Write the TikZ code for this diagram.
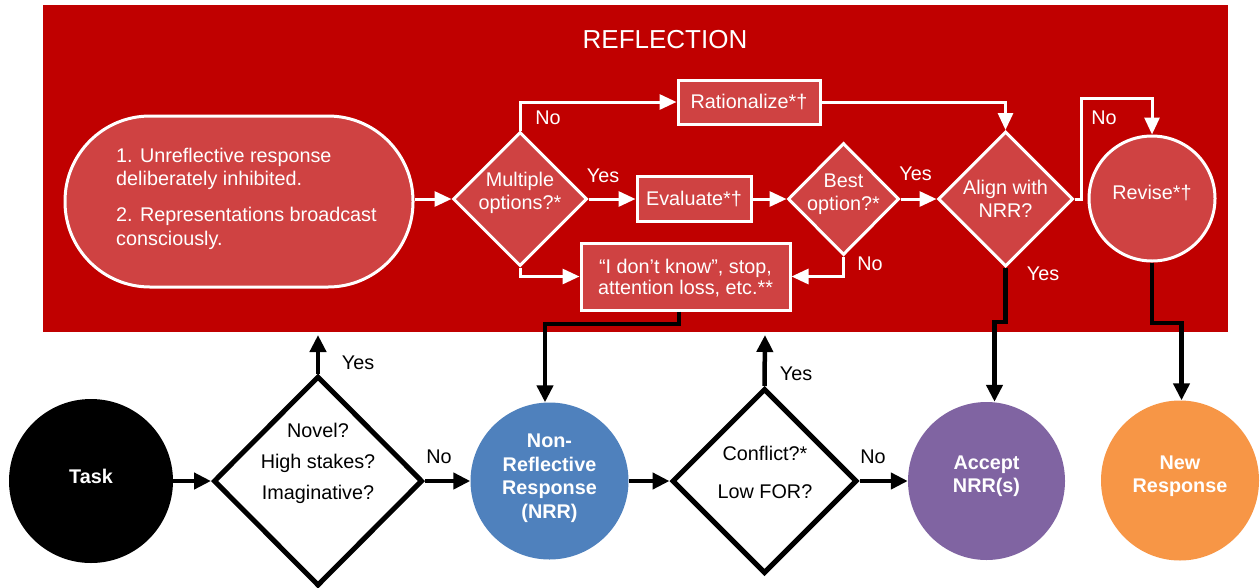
\documentclass[tikz,border=0pt]{standalone}
\usepackage{fontspec}
\setmainfont{Liberation Sans}
\usetikzlibrary{arrows.meta,shapes.geometric}
\definecolor{reflred}{RGB}{192,0,0}
\definecolor{reflfill}{RGB}{207,66,66}
\definecolor{nrrblue}{RGB}{79,129,189}
\definecolor{accpurple}{RGB}{128,100,162}
\definecolor{neworange}{RGB}{247,150,70}
\begin{document}
\begin{tikzpicture}[x=1pt,y=-1pt,
  every node/.style={font=\fontsize{19.8}{23.5}\selectfont, inner sep=0pt},
  wshape/.style={draw=white, line width=3pt, fill=reflfill, text=white},
  wbox/.style={wshape, rectangle},
  wdia/.style={wshape, diamond},
  bdia/.style={draw=black, line width=5pt, fill=white, diamond},
  ctxt/.style={text=white, align=center, font=\fontsize{19.8}{23.5}\selectfont\bfseries},
  wtxt/.style={text=white, align=center},
  btxt/.style={text=black, align=center},
  warr/.style={draw=white, line width=3pt, -{Triangle[length=17pt,width=15pt]}},
  barr/.style={draw=black, line width=4.5pt, -{Triangle[length=17pt,width=16pt]}},
]
\useasboundingbox (0,0) rectangle (1260,587);
\fill[white] (0,0) rectangle (1260,587);
\fill[reflred] (43,5) rectangle (1228,332);
\node[wtxt, font=\fontsize{26}{30}\selectfont] (title) at (665,40) {REFLECTION};

% reflection shapes
\node[wbox, rounded corners=85pt, minimum width=348pt, minimum height=171pt] (stad) at (239,201.5) {};
\node[wtxt, anchor=west, align=left] (stadtxt) at (116,198.5) {1. Unreflective response\\deliberately inhibited.\\[12.5pt]2. Representations broadcast\\consciously.};
\node[wdia, minimum width=134pt, minimum height=134pt] (multi) at (520,199) {};
\node[wtxt] (multitxt) at (520,193) {Multiple\\options?*};
\node[wbox, minimum width=142pt, minimum height=44pt] (rat) at (749,102) {Rationalize*†};
\node[wbox, minimum width=114pt, minimum height=45pt] (eval) at (694,199) {Evaluate*†};
\node[wdia, minimum width=111pt, minimum height=112pt] (best) at (843.5,199) {};
\node[wtxt] (besttxt) at (843.5,194) {Best\\option?*};
\node[wdia, minimum width=135pt, minimum height=135pt] (align) at (1005.5,199) {};
\node[wtxt] (aligntxt) at (1005.5,199) {Align with\\NRR?};
\node[wshape, ellipse, minimum width=126pt, minimum height=125pt] (revise) at (1152,198.5) {};
\node[wtxt] (revisetxt) at (1152,193) {Revise*†};
\node[wbox, minimum width=209pt, minimum height=67pt] (idk) at (685.5,276.5) {};
\node[wtxt, font=\fontsize{19.8}{21.5}\selectfont] (idktxt) at (685.5,278) {“I don’t know”, stop,\\attention loss, etc.**};

% bottom shapes
\node[ellipse, fill=black, minimum width=164pt, minimum height=164pt] (task) at (91,481) {};
\node[ctxt] (tasktxt) at (91,476) {Task};
\node[bdia, minimum width=209pt, minimum height=210pt] (d1) at (318,481) {};
\node[btxt] (d1txt) at (318,463) {Novel?\\[7.5pt]High stakes?\\[7.5pt]Imaginative?};
\node[ellipse, fill=nrrblue, minimum width=158pt, minimum height=157pt] (nrr) at (549.5,481) {};
\node[ctxt] (nrrtxt) at (549.5,478) {Non-\\Reflective\\Response\\(NRR)};
\node[bdia, minimum width=185pt, minimum height=185pt] (conf) at (764.5,481) {};
\node[btxt] (conftxt) at (765,472) {Conflict?*\\[14.5pt]Low FOR?};
\node[ellipse, fill=accpurple, minimum width=157pt, minimum height=158pt] (accept) at (986.5,481) {};
\node[ctxt] (accepttxt) at (986.5,476) {Accept\\NRR(s)};
\node[ellipse, fill=neworange, minimum width=158pt, minimum height=160pt] (new) at (1180,480.5) {};
\node[ctxt] (newtxt) at (1180,476) {New\\Response};

% coordinates
\coordinate (c1) at (1081,98);
\coordinate (j1) at (679,324);
\coordinate (j2) at (545,324);
\coordinate (k1) at (1005.5,322);
\coordinate (k2) at (994.5,322);
\coordinate (m1) at (1152,323);
\coordinate (m2) at (1181.5,323);
\coordinate (y1) at (318,335);
\coordinate (y2) at (765,335);

% white connectors
\draw[warr] (stad.east |- multi.west) -- (multi.west);
\draw[warr] (multi.north) |- (rat.west);
\draw[warr] (multi.east) -- (eval.west);
\draw[warr] (eval.east) -- (best.west);
\draw[warr] (best.east) -- (align.west);
\draw[warr] (rat.east) -| (align.north);
\draw[warr] (best.south) |- (idk.east);
\draw[warr] (multi.south) |- (idk.west);
\draw[warr] (align.east) -| (c1) -| (revise.north);

% black connectors
\draw[barr] (j1 |- idk.south) -- (j1) -- (j2) -- (j2 |- nrr.north);
\draw[barr] (align.south) -- (k1) -- (k2) -- (k2 |- accept.north);
\draw[barr] (revise.south) -- (m1) -- (m2) -- (m2 |- new.north);
\draw[barr] (task.east) -- (d1.west);
\draw[barr] (d1.north) -- (y1);
\draw[barr] (d1.east) -- (nrr.west);
\draw[barr] (nrr.east) -- (conf.west);
\draw[barr] (conf.north) -- (y2);
\draw[barr] (conf.east) -- (accept.west);

% labels
\node[wtxt] (l1) at (548,118) {No};
\node[wtxt] (l2) at (603,176) {Yes};
\node[wtxt] (l3) at (915.5,174) {Yes};
\node[wtxt] (l4) at (870,264) {No};
\node[wtxt] (l5) at (1104,118) {No};
\node[wtxt] (l6) at (1043,274) {Yes};
\node[btxt] (l7) at (358,363) {Yes};
\node[btxt] (l8) at (439,457) {No};
\node[btxt] (l9) at (796,374) {Yes};
\node[btxt] (l10) at (873,457) {No};
\end{tikzpicture}
\end{document}
